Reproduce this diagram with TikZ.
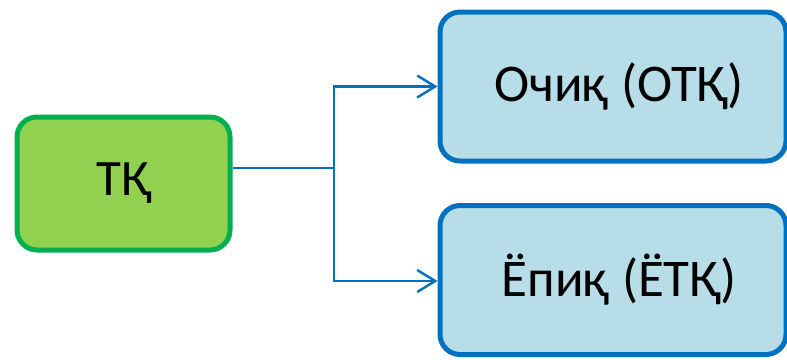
\documentclass[tikz,border=0pt]{standalone}
\usepackage{fontspec}
\setmainfont{Carlito}
\usetikzlibrary{arrows.meta}
\definecolor{gfill}{HTML}{92D050}
\definecolor{gline}{HTML}{00B050}
\definecolor{bfill}{HTML}{B7DDE8}
\definecolor{bline}{HTML}{0070C0}
\tikzset{
  gbox/.style={draw=gline, fill=gfill, line width=5pt, rounded corners=20pt,
    minimum width=213pt, minimum height=133pt, inner sep=0pt, font=\fontsize{51}{60}\selectfont},
  bbox/.style={draw=bline, fill=bfill, line width=5pt, rounded corners=20pt,
    minimum width=346pt, minimum height=149pt, inner sep=0pt, font=\fontsize{53}{60}\selectfont},
  conn/.style={draw=bline, line width=2.4pt},
  arr/.style={conn, -{Straight Barb[length=18pt, width=22pt, line width=2.4pt]}}
}
\begin{document}
\begin{tikzpicture}[x=1pt, y=-1pt]
\useasboundingbox (0,0) rectangle (787,359);
\node[gbox] (tk) at (123.5,183.5) {ТҚ};
\node[bbox] (otk) at (613,86.5) {\hspace{12pt}Очиқ (ОТҚ)};
\node[bbox] (etk) at (613,280) {\hspace{12pt}Ёпиқ (ЁТҚ)};
\coordinate (j) at (334,168);
\draw[conn] (tk.east |- j) -- (j);
\draw[arr] (j) |- (otk.west);
\draw[arr] (j) |- ([yshift=-1pt]etk.west);
\end{tikzpicture}
\end{document}
